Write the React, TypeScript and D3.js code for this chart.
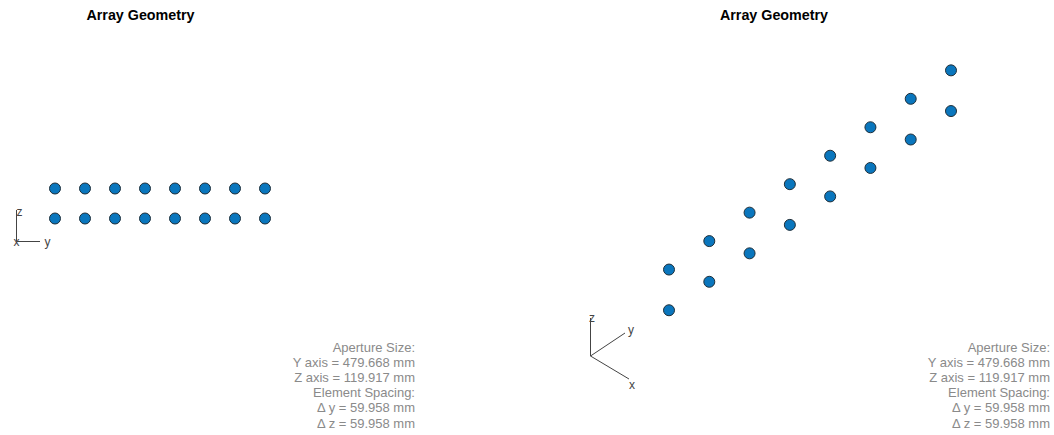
import React from "react";
import * as d3 from "d3";

// Element positions (mm)
const elementY = [-209.853, -149.895, -89.937, -29.979, 29.979, 89.937, 149.895, 209.853];
const elementZ = [-29.979, 29.979];
const infoLines = [
  "Aperture Size:",
  "Y axis = 479.668 mm",
  "Z axis = 119.917 mm",
  "Element Spacing:",
  "\u0394 y = 59.958 mm",
  "\u0394 z = 59.958 mm",
];
const titleText = "Array Geometry";

const W = 1054;
const H = 435;
const DOT_FILL = "#0a76bd";
const DOT_STROKE = "#1f2f3a";
const INFO_COLOR = "#8a8a8a";
const FONT = "'Liberation Sans', Arial, sans-serif";

export default function App() {
  const points = elementZ.flatMap((z) => elementY.map((y) => ({ y, z })));

  // Left (front view, y-z plane)
  const lx = d3.scaleLinear().domain([-209.853, 209.853]).range([55, 265]);
  const lz = d3.scaleLinear().domain([-29.979, 29.979]).range([218.5, 188.5]);

  // Right (isometric view)
  const rxY = d3.scaleLinear().domain([-209.853, 209.853]).range([669, 951]);
  const ryY = d3.scaleLinear().domain([-209.853, 209.853]).range([99.6, -99.6]);
  const ryZ = d3.scaleLinear().domain([-29.979, 29.979]).range([20.35, -20.35]);
  const cy = 190.3;

  const infoY0 = 347;
  const lineH = 15.2;

  return (
    <svg width={W} height={H} style={{ position: "absolute", left: 0, top: 0, background: "#fff" }}>
      <rect x={0} y={0} width={W} height={H} fill="#fff" />
      {/* Titles */}
      <text x={140.5} y={20} textAnchor="middle" fontFamily={FONT} fontWeight="bold" fontSize={14.3} fill="#000">
        {titleText}
      </text>
      <text x={774} y={20} textAnchor="middle" fontFamily={FONT} fontWeight="bold" fontSize={14.3} fill="#000">
        {titleText}
      </text>

      {/* Left dots */}
      {points.map((p, i) => (
        <circle key={"l" + i} cx={lx(p.y)} cy={lz(p.z)} r={5.5} fill={DOT_FILL} stroke={DOT_STROKE} strokeWidth={1} />
      ))}

      {/* Right dots */}
      {points.map((p, i) => (
        <circle key={"r" + i} cx={rxY(p.y)} cy={cy + ryY(p.y) + ryZ(p.z)} r={5.5} fill={DOT_FILL} stroke={DOT_STROKE} strokeWidth={1} />
      ))}

      {/* Left axis triad */}
      <g stroke="#444" strokeWidth={1} fill="none">
        <line x1={16.5} y1={210} x2={16.5} y2={241.5} />
        <line x1={16.5} y1={241.5} x2={40} y2={241.5} />
      </g>
      <g fontFamily={FONT} fontSize={12} fill="#444">
        <text x={16.5} y={216}>z</text>
        <text x={44.5} y={246}>y</text>
        <text x={13.5} y={246}>x</text>
      </g>

      {/* Right axis triad */}
      <g stroke="#444" strokeWidth={1} fill="none">
        <line x1={590.5} y1={318} x2={590.5} y2={356} />
        <line x1={590.5} y1={356} x2={625} y2={333} />
        <line x1={590.5} y1={356} x2={629} y2={379} />
      </g>
      <g fontFamily={FONT} fontSize={12} fill="#444">
        <text x={589} y={322}>z</text>
        <text x={628} y={334}>y</text>
        <text x={629} y={389}>x</text>
      </g>

      {/* Info text */}
      {[415, 1050].map((xr) => (
        <g key={xr} fontFamily={FONT} fontSize={13} fill={INFO_COLOR} textAnchor="end">
          {infoLines.map((t, i) => (
            <text key={i} x={xr} y={infoY0 + 4.5 + i * lineH}>
              {t}
            </text>
          ))}
        </g>
      ))}
    </svg>
  );
}
